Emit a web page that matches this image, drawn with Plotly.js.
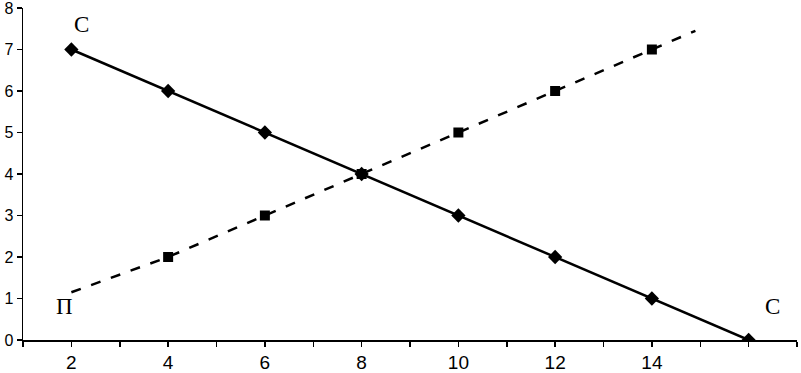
<!DOCTYPE html>
<html><head><meta charset="utf-8">
<script src="https://cdn.plot.ly/plotly-3.0.1.min.js"></script>
<style>html,body{margin:0;padding:0;background:#fff}#chart{width:801px;height:373px}</style>
</head><body><div id="chart"></div>
<script>
const cX = [2, 4, 6, 8, 10, 12, 14, 16];
const cY = [7, 6, 5, 4, 3, 2, 1, 0];
const pLineX = [2, 4, 6, 8, 10, 12, 14, 14.9];
const pLineY = [1.15, 2, 3, 4, 5, 6, 7, 7.45];
const pX = [4, 6, 8, 10, 12, 14];
const pY = [2, 3, 4, 5, 6, 7];
const xTickVals = [1,2,3,4,5,6,7,8,9,10,11,12,13,14,15,16,17];
const xTickText = ['', '2', '', '4', '', '6', '', '8', '', '10', '', '12', '', '14', '', '', ''];
const labels = [
  {x: 2.2, y: 7.6, text: 'С'},
  {x: 1.85, y: 0.8, text: 'П'},
  {x: 16.5, y: 0.8, text: 'С'}
];

const traces = [
  {x: pLineX, y: pLineY, mode: 'lines', line: {color: '#000', width: 2.5, dash: '10px,11px'}, hoverinfo: 'skip'},
  {x: pX, y: pY, mode: 'markers', marker: {symbol: 'square', size: 10, color: '#000'}},
  {x: cX, y: cY, mode: 'lines+markers', line: {color: '#000', width: 2.5}, marker: {symbol: 'diamond', size: 11, color: '#000'}}
];

const layout = {
  width: 801, height: 373,
  margin: {l: 23, r: 4, t: 8, b: 33},
  showlegend: false,
  paper_bgcolor: '#fff', plot_bgcolor: '#fff',
  font: {family: 'Liberation Sans, Arial, sans-serif', size: 16, color: '#000'},
  xaxis: {
    range: [1, 17], tickmode: 'array', tickvals: xTickVals, ticktext: xTickText,
    showgrid: false, zeroline: false, showline: true, linecolor: '#000', linewidth: 1.5,
    ticks: 'outside', ticklen: 5, tickwidth: 1.5, tickcolor: '#000',
    tickfont: {size: 19}, ticklabeloverflow: 'allow'
  },
  yaxis: {
    range: [0, 8], dtick: 1, tick0: 0,
    showgrid: false, zeroline: false, showline: true, linecolor: '#000', linewidth: 1.5,
    ticks: 'outside', ticklen: 5, tickwidth: 1.5, tickcolor: '#000',
    tickfont: {size: 16}, ticklabeloverflow: 'allow'
  },
  annotations: labels.map(l => ({x: l.x, y: l.y, text: l.text, showarrow: false, xref: 'x', yref: 'y',
    font: {family: 'Liberation Serif, Times New Roman, serif', size: 23, color: '#000'}}))
};

Plotly.newPlot('chart', traces, layout, {displayModeBar: false, staticPlot: true});
</script></body></html>
